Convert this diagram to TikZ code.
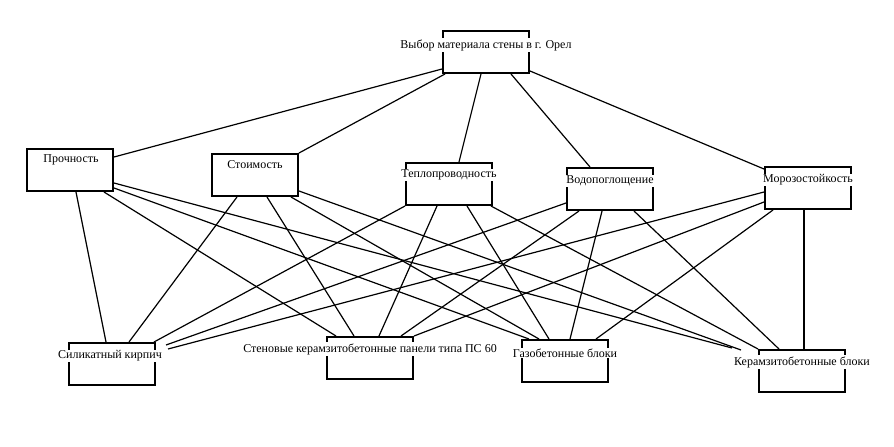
\documentclass[tikz,border=0pt]{standalone}
\usepackage{fontspec}
\setmainfont{Liberation Serif}

\tikzset{
  box/.style={draw, line width=2pt, minimum width=86pt, minimum height=42pt, inner sep=0pt},
  lbl/.style={fill=white, inner sep=1pt, font=\fontsize{12}{14}\selectfont},
  link/.style={line width=1.2pt}
}

\begin{document}
\begin{tikzpicture}[x=1pt,y=-1pt]
\useasboundingbox (0,0) rectangle (894,447);
% boxes
\node[box] (top) at (486,52) {};
\node[box] (proch) at (70,170) {};
\node[box] (stoim) at (255,175) {};
\node[box] (teplo) at (449,184) {};
\node[box] (vodo) at (610,189) {};
\node[box] (moroz) at (808,188) {};
\node[box] (sil) at (112,364) {};
\node[box] (sten) at (370,358) {};
\node[box] (gaz) at (565,361) {};
\node[box] (keram) at (802,371) {};

% goal to criteria
\draw[link] ([shift={(0,-5)}]top.south west) -- ([shift={(0,9)}]proch.north east);
\draw[link] ([shift={(3,0)}]top.south west) -- (stoim.north east);
\draw[link] ([shift={(-5,0)}]top.south) -- ([shift={(10,0)}]teplo.north);
\draw[link] ([shift={(25,0)}]top.south) -- ([shift={(-20,0)}]vodo.north);
\draw[link] ([shift={(0,-3)}]top.south east) -- ([shift={(0,3)}]moroz.north west);

% criteria to alternatives
\draw[link] ([shift={(50,0)}]proch.south west) -- ([shift={(38,0)}]sil.north west);
\draw[link] ([shift={(78,0)}]proch.south west) -- ([shift={(10,0)}]sten.north west);
\draw[link] ([shift={(0,18)}]proch.east) -- ([shift={(8,0)}]gaz.north west);
\draw[link] ([shift={(0,13)}]proch.east) -- ([shift={(-26,-1)}]keram.north west);

\draw[link] ([shift={(26,0)}]stoim.south west) -- ([shift={(61,0)}]sil.north west);
\draw[link] ([shift={(56,0)}]stoim.south west) -- ([shift={(28,0)}]sten.north west);
\draw[link] ([shift={(-8,0)}]stoim.south east) -- ([shift={(18,0)}]gaz.north west);
\draw[link] ([shift={(0,16)}]stoim.east) -- ([shift={(-17,1)}]keram.north west);

\draw[link] (teplo.south west) -- ([shift={(-2,0)}]sil.north east);
\draw[link] ([shift={(32,0)}]teplo.south west) -- ([shift={(53,0)}]sten.north west);
\draw[link] ([shift={(62,0)}]teplo.south west) -- ([shift={(28,0)}]gaz.north west);
\draw[link] ([shift={(-2,0)}]teplo.south east) -- (keram.north west);

\draw[link] ([shift={(0,14)}]vodo.west) -- ([shift={(10,3)}]sil.north east);
\draw[link] ([shift={(13,0)}]vodo.south west) -- ([shift={(-13,0)}]sten.north east);
\draw[link] ([shift={(36,0)}]vodo.south west) -- ([shift={(49,0)}]gaz.north west);
\draw[link] ([shift={(-20,0)}]vodo.south east) -- ([shift={(21,0)}]keram.north west);

\draw[link] ([shift={(0,4)}]moroz.west) -- ([shift={(12,7)}]sil.north east);
\draw[link] ([shift={(0,14)}]moroz.west) -- (sten.north east);
\draw[link] ([shift={(9,0)}]moroz.south west) -- ([shift={(-13,0)}]gaz.north east);
\draw[link] ([shift={(-4,0)}]moroz.south) -- ([shift={(2,0)}]keram.north);

% labels
\node[lbl] (topl) at (486,45) {Выбор материала стены в г. Орел};
\node[lbl] (prochl) at (71,160) {Прочность};
\node[lbl] (stoiml) at (255,165) {Стоимость};
\node[lbl] (teplol) at (449,175) {Теплопроводность};
\node[lbl] (vodol) at (610,181) {Водопоглощение};
\node[lbl] (morozl) at (808,180) {Морозостойкость};
\node[lbl] (sill) at (110,356) {Силикатный кирпич};
\node[lbl] (stenl) at (370,349) {Стеновые керамзитобетонные панели типа ПС 60};
\node[lbl] (gazl) at (565,353) {Газобетонные блоки};
\node[lbl] (keraml) at (802,362) {Керамзитобетонные блоки};
\end{tikzpicture}
\end{document}
